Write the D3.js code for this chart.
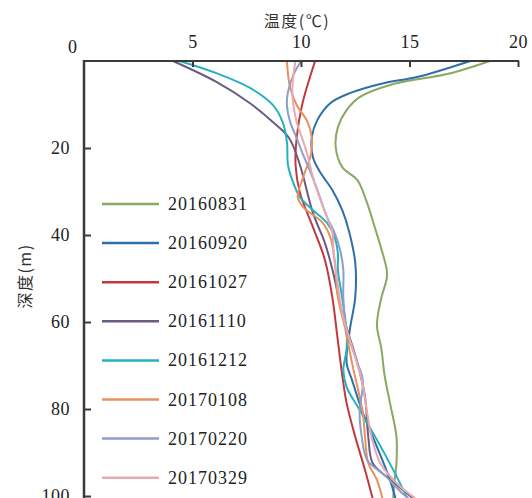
<!DOCTYPE html>
<html>
<head>
<meta charset="utf-8">
<script src="https://cdn.jsdelivr.net/npm/d3@7"></script>
<style>
  body { margin: 0; background: #fff; }
  svg { display: block; }
</style>
</head>
<body>
<svg id="chart" width="532" height="498"></svg>
<script>
// series names (dates) and colours
var dates = ["20160831", "20160920", "20161027", "20161110", "20161212", "20170108", "20170220", "20170329"];
var colors = ["#8aa862", "#2f6fa7", "#c0393f", "#6b5b80", "#25b1c1", "#e8905f", "#8d9ec9", "#e9a9b1"];

// depth (m) and temperature (C), one pair per date
var depth0831 = [0, 2.8, 5.5, 8.3, 11.3, 15.2, 19.8, 24.4, 27.4, 32, 38.2, 48, 50, 54.5, 60.7, 66, 72.2, 78.6, 86.4, 92.4, 97, 100.5];
var temp0831  = [18.7, 16.9, 14.1, 12.7, 12.1, 11.7, 11.6, 11.9, 12.6, 13.0, 13.4, 13.95, 13.95, 13.7, 13.5, 13.7, 13.85, 14.1, 14.4, 14.4, 14.3, 14.25];

var depth0920 = [0, 3.7, 5.1, 7.4, 9.7, 13.6, 17.5, 22.1, 25.7, 29.7, 34.3, 38.9, 46.4, 54.3, 61.8, 69.4, 73.3, 80.9, 88.7, 96.3, 100.5];
var temp0920  = [17.8, 15.35, 13.8, 12.25, 11.35, 10.75, 10.5, 10.55, 10.9, 11.45, 11.9, 12.2, 12.5, 12.5, 12.25, 12.1, 12.35, 12.85, 13.5, 14.1, 14.35];

var depth1027 = [0, 10.1, 17.7, 23.9, 30.3, 38.2, 45.7, 54.5, 62.3, 72.2, 78.6, 86.4, 94, 100.5];
var temp1027  = [10.65, 10.05, 9.8, 9.75, 9.95, 10.55, 11.1, 11.45, 11.65, 11.9, 12.1, 12.5, 12.95, 13.3];

var depth1110 = [0, 4.8, 9.7, 14, 17.7, 23.9, 34.9, 41.8, 48, 57.9, 69.4, 77.2, 86.4, 92.4, 95.6, 98.6, 100.5];
var temp1110  = [4.1, 6.1, 7.65, 8.7, 9.45, 9.95, 10.55, 11.1, 11.45, 11.9, 12.6, 12.95, 13.1, 13.3, 13.95, 14.7, 15.15];

var depth1212 = [0, 2.8, 6.2, 10.1, 14, 18.6, 23.9, 27.4, 31.3, 34.3, 37.2, 40.5, 44.1, 48, 54.5, 62.3, 66.4, 71, 74.9, 80.2, 87.1, 94, 100.5];
var temp1212  = [4.4, 6.1, 7.65, 8.7, 9.15, 9.35, 9.4, 9.6, 9.95, 10.55, 11.2, 11.55, 11.7, 11.7, 11.9, 12.1, 12.1, 11.95, 12.1, 12.7, 13.5, 14.25, 14.9];

var depth0108 = [0, 6.2, 10.1, 14, 17.7, 21.6, 26.7, 31.3, 33.6, 37.2, 40.5, 45.7, 54.3, 61.8, 69.4, 80.9, 86.4, 92.4, 96.3, 100.5];
var temp0108  = [9.35, 9.5, 9.8, 10.3, 10.5, 10.45, 10.1, 9.85, 10.1, 11.0, 11.35, 11.55, 11.7, 12.05, 12.35, 12.85, 12.95, 13.1, 13.5, 13.75];

var depth0220 = [0, 3.2, 7.1, 10.1, 14, 17.7, 21.6, 25.1, 30.3, 35.9, 39.5, 43.4, 48, 54.3, 61.8, 69.4, 73.3, 80.9, 86.4, 91.7, 95.2, 99.3, 100.5];
var temp0220  = [10.0, 9.65, 9.4, 9.35, 9.5, 9.8, 10.1, 10.4, 10.8, 11.2, 11.55, 11.8, 11.95, 11.95, 12.1, 12.6, 12.85, 12.7, 12.8, 13.05, 13.85, 14.65, 14.95];

var depth0329 = [0, 3.2, 7.1, 10.1, 14, 17.7, 21.6, 26.7, 32, 36.6, 39.5, 44.1, 48, 57.9, 65.7, 73.3, 80.9, 86.4, 92.4, 97, 100.5];
var temp0329  = [9.75, 9.65, 9.6, 9.65, 9.8, 10.05, 10.3, 10.55, 10.9, 11.25, 11.45, 11.5, 11.6, 11.9, 12.35, 12.8, 13.05, 13.25, 13.65, 14.4, 15.25];

var depthList = [depth0831, depth0920, depth1027, depth1110, depth1212, depth0108, depth0220, depth0329];
var tempList = [temp0831, temp0920, temp1027, temp1110, temp1212, temp0108, temp0220, temp0329];

var xTicks = [5, 10, 15, 20];
var yTicks = [20, 40, 60, 80, 100];

var svg = d3.select("#chart");
// note: "top" is taken by window.top, so plot edges get their own names
var plotLeft = 84, plotRight = 518, plotTop = 61, plotBottom = 496;
var serif = "Liberation Serif, serif";

var x = d3.scaleLinear().domain([0, 20]).range([plotLeft, plotRight]);
var y = d3.scaleLinear().domain([0, 100]).range([plotTop, plotBottom]);

// curves first so axes sit on top
var line = d3.line()
  .x(d => x(d.t))
  .y(d => y(d.d))
  .curve(d3.curveCatmullRom.alpha(0.5));

var series = dates.map((name, i) => ({
  name: name,
  color: colors[i],
  values: depthList[i].map((d, j) => ({d: d, t: tempList[i][j]}))
}));

svg.append("g").selectAll("path")
  .data(series)
  .enter()
  .append("path")
  .attr("d", s => line(s.values))
  .attr("fill", "none")
  .attr("stroke", s => s.color)
  .attr("stroke-width", 2);

// top axis, ticks pointing inward
var xAxis = svg.append("g")
  .attr("transform", `translate(0,${plotTop})`)
  .call(d3.axisTop(x).tickValues(xTicks).tickSize(-6).tickPadding(13).tickFormat(d3.format("d")));

// left axis, ticks pointing inward, runs off the bottom
var yAxis = svg.append("g")
  .attr("transform", `translate(${plotLeft},0)`)
  .call(d3.axisLeft(y).tickValues(yTicks).tickSize(-7).tickPadding(14).tickFormat(d3.format("d")));

[xAxis, yAxis].forEach(g => {
  g.attr("font-family", null).attr("font-size", null);
  g.select(".domain").remove();
  g.selectAll(".tick line").attr("stroke", "#3a3a3a").attr("stroke-width", 2);
  g.selectAll(".tick text")
    .style("font-family", serif)
    .style("font-size", "18px")
    .style("letter-spacing", "0.5px")
    .attr("fill", "#222");
});

svg.append("line")
  .attr("x1", plotLeft).attr("x2", plotRight + 1)
  .attr("y1", plotTop).attr("y2", plotTop)
  .attr("stroke", "#3a3a3a").attr("stroke-width", 2);
svg.append("line")
  .attr("x1", plotLeft).attr("x2", plotLeft)
  .attr("y1", plotTop - 1).attr("y2", 498)
  .attr("stroke", "#3a3a3a").attr("stroke-width", 2.5);

// the lone "0" at the corner
svg.append("text")
  .attr("x", 77).attr("y", 53)
  .attr("text-anchor", "end")
  .style("font-family", serif)
  .style("font-size", "18px")
  .attr("fill", "#222")
  .text("0");

// axis titles
svg.append("text")
  .attr("x", 297).attr("y", 27)
  .attr("text-anchor", "middle")
  .style("font-family", "Noto Sans CJK SC, sans-serif")
  .style("font-size", "16px")
  .style("letter-spacing", "1.5px")
  .attr("fill", "#333")
  .text("温度(℃)");

svg.append("text")
  .attr("transform", "translate(31,276) rotate(-90)")
  .attr("text-anchor", "middle")
  .style("font-family", "Noto Sans CJK SC, sans-serif")
  .style("font-size", "16px")
  .style("letter-spacing", "1.5px")
  .attr("fill", "#333")
  .text("深度(m)");

// legend inside the plot
var legend = svg.append("g").selectAll("g")
  .data(series)
  .enter()
  .append("g")
  .attr("transform", (s, i) => `translate(102,${204 + i * 39.1})`);

legend.append("line")
  .attr("x1", 0).attr("x2", 57)
  .attr("stroke", s => s.color)
  .attr("stroke-width", 2.5);

legend.append("text")
  .attr("x", 66).attr("y", 6)
  .style("font-family", serif)
  .style("font-size", "18px")
  .style("letter-spacing", "1px")
  .attr("fill", "#222")
  .text(s => s.name);
</script>
</body>
</html>
